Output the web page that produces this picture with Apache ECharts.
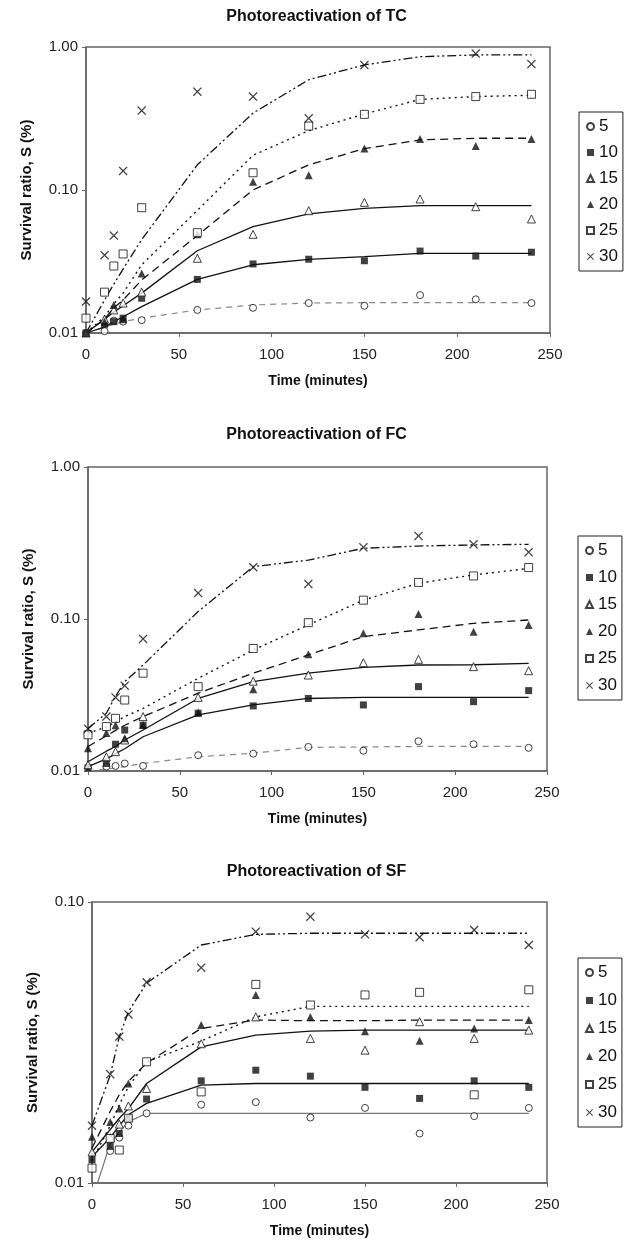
<!DOCTYPE html>
<html>
<head>
<meta charset="utf-8">
<script src="https://cdn.jsdelivr.net/npm/echarts@6/dist/echarts.min.js"></script>
<style>
  html, body { margin: 0; padding: 0; background: #fff; }
  #main { width: 633px; height: 1250px; }
</style>
</head>
<body>
<div id="main"></div>
<script>
// sampling times (minutes) and UV doses
const times = [0, 10, 15, 20, 30, 60, 90, 120, 150, 180, 210, 240];
const doses = ['5', '10', '15', '20', '25', '30'];

// TC measured
const tc5  = [0.010, 0.0103, 0.0122, 0.012, 0.0123, 0.0145, 0.015, 0.0162, 0.0155, 0.0184, 0.0172, 0.0162];
const tc10 = [0.010, 0.0115, 0.012, 0.0127, 0.0175, 0.0237, 0.0304, 0.0328, 0.032, 0.0374, 0.0345, 0.0367];
const tc15 = [0.010, 0.0125, 0.0145, 0.0162, 0.0193, 0.0333, 0.049, 0.0717, 0.082, 0.0865, 0.0764, 0.0627];
const tc20 = [0.010, 0.012, 0.0157, 0.0125, 0.0261, 0.049, 0.114, 0.127, 0.195, 0.227, 0.203, 0.227];
const tc25 = [0.0127, 0.0193, 0.0294, 0.0357, 0.0752, 0.0503, 0.132, 0.28, 0.338, 0.43, 0.45, 0.467];
const tc30 = [0.0166, 0.035, 0.048, 0.136, 0.359, 0.487, 0.45, 0.317, 0.748, null, 0.90, 0.76];
// TC fitted
const tcFit5  = [0.010, 0.011, 0.0115, 0.012, 0.0127, 0.0145, 0.0157, 0.0162, 0.0163, 0.0163, 0.0163, 0.0163];
const tcFit10 = [0.010, 0.011, 0.012, 0.013, 0.0153, 0.0237, 0.030, 0.0327, 0.0342, 0.036, 0.036, 0.036];
const tcFit15 = [0.010, 0.0125, 0.014, 0.0155, 0.019, 0.0376, 0.0554, 0.068, 0.0745, 0.0777, 0.0777, 0.0777];
const tcFit20 = [0.010, 0.0125, 0.015, 0.017, 0.0235, 0.048, 0.100, 0.150, 0.195, 0.224, 0.230, 0.230];
const tcFit25 = [0.010, 0.013, 0.016, 0.019, 0.030, 0.072, 0.175, 0.26, 0.34, 0.43, 0.45, 0.46];
const tcFit30 = [0.010, 0.017, 0.022, 0.028, 0.045, 0.15, 0.345, 0.59, 0.75, 0.855, 0.88, 0.88];

// FC measured
const fc5  = [0.0099, 0.0107, 0.0108, 0.0112, 0.0108, 0.0127, 0.013, 0.0144, 0.0136, 0.0157, 0.015, 0.0142];
const fc10 = [0.0105, 0.0112, 0.015, 0.0186, 0.020, 0.024, 0.0268, 0.030, 0.0272, 0.0359, 0.0286, 0.0338];
const fc15 = [0.011, 0.0124, 0.0134, 0.016, 0.0228, 0.0305, 0.039, 0.0428, 0.0516, 0.0543, 0.0486, 0.0457];
const fc20 = [0.0141, 0.0178, 0.020, 0.0164, 0.0201, 0.0243, 0.0345, 0.0586, 0.0805, 0.108, 0.0825, 0.0914];
const fc25 = [0.0173, 0.0196, 0.0222, 0.0293, 0.044, 0.0359, 0.064, 0.0946, 0.133, 0.174, 0.192, 0.218];
const fc30 = [0.019, 0.0228, 0.0305, 0.0364, 0.0739, 0.148, 0.219, 0.17, 0.296, 0.352, 0.31, 0.275];
// FC fitted
const fcFit5  = [0.0100, 0.0103, 0.0105, 0.0107, 0.0112, 0.0124, 0.0131, 0.0143, 0.0144, 0.0145, 0.0145, 0.0145];
const fcFit10 = [0.0107, 0.012, 0.013, 0.014, 0.0168, 0.0234, 0.0272, 0.030, 0.0305, 0.0305, 0.0305, 0.0305];
const fcFit15 = [0.0115, 0.0135, 0.0145, 0.016, 0.0186, 0.030, 0.0387, 0.044, 0.048, 0.0498, 0.050, 0.051];
const fcFit20 = [0.0145, 0.017, 0.0185, 0.020, 0.0228, 0.0325, 0.044, 0.058, 0.0766, 0.0847, 0.0937, 0.0985];
const fcFit25 = [0.0177, 0.0195, 0.021, 0.0228, 0.0258, 0.0407, 0.0625, 0.0914, 0.133, 0.172, 0.195, 0.215];
const fcFit30 = [0.019, 0.024, 0.031, 0.0387, 0.0498, 0.112, 0.221, 0.244, 0.292, 0.302, 0.307, 0.31];

// SF measured
const sf5  = [null, 0.013, 0.0145, 0.016, 0.0177, 0.019, 0.0194, 0.0171, 0.0185, 0.015, 0.0173, 0.0185];
const sf10 = [0.0121, 0.0135, 0.015, 0.017, 0.0199, 0.0231, 0.0252, 0.024, 0.0219, 0.020, 0.0231, 0.0219];
const sf15 = [0.0129, 0.0145, 0.0162, 0.0188, 0.0217, 0.0313, 0.039, 0.0327, 0.0297, 0.0375, 0.0327, 0.035];
const sf20 = [0.0146, 0.0165, 0.0184, 0.0226, null, 0.0365, 0.0467, 0.039, 0.0347, 0.0321, 0.0355, 0.038];
const sf25 = [0.0113, 0.0144, 0.0131, 0.017, 0.027, 0.0211, 0.0509, 0.043, 0.0467, 0.0477, 0.0206, 0.0487];
const sf30 = [0.016, 0.0244, 0.0332, 0.0398, 0.0518, 0.0584, 0.0784, 0.0887, 0.0767, 0.0749, 0.0795, 0.0703];
// SF fitted
const sfFit5  = [0.0087, 0.0138, 0.0152, 0.0165, 0.0177, 0.0177, 0.0177, 0.0177, 0.0177, 0.0177, 0.0177, 0.0177];
const sfFit10 = [0.0124, 0.0145, 0.016, 0.0175, 0.0192, 0.0223, 0.0226, 0.0226, 0.0226, 0.0226, 0.0226, 0.0226];
const sfFit15 = [0.0129, 0.0155, 0.017, 0.0184, 0.0226, 0.0305, 0.0336, 0.0347, 0.035, 0.035, 0.035, 0.035];
const sfFit20 = [0.0133, 0.018, 0.0206, 0.023, 0.0267, 0.0355, 0.038, 0.0378, 0.0378, 0.038, 0.038, 0.038];
const sfFit25 = [0.012, 0.016, 0.019, 0.022, 0.027, 0.032, 0.039, 0.0425, 0.0425, 0.0425, 0.0425, 0.0425];
const sfFit30 = [0.016, 0.0242, 0.0332, 0.0407, 0.0514, 0.0703, 0.0767, 0.0774, 0.0774, 0.0774, 0.0774, 0.0774];

const FONT = '"Liberation Sans", Arial, sans-serif';
const INK = '#111';
const CROSS = 'path://M0,1 L1,0 L5,4 L9,0 L10,1 L6,5 L10,9 L9,10 L5,6 L1,10 L0,9 L4,5 Z';

// marker look per dose
const markers = {
  '5':  { symbol: 'circle',   size: 7, itemStyle: { color: '#fff', borderColor: INK, borderWidth: 1 } },
  '10': { symbol: 'rect',     size: 7, itemStyle: { color: INK, borderWidth: 0 } },
  '15': { symbol: 'triangle', size: 8, itemStyle: { color: '#fff', borderColor: INK, borderWidth: 1 } },
  '20': { symbol: 'triangle', size: 8, itemStyle: { color: INK, borderWidth: 0 } },
  '25': { symbol: 'rect',     size: 8, itemStyle: { color: '#fff', borderColor: INK, borderWidth: 1 } },
  '30': { symbol: CROSS,      size: 9, itemStyle: { color: INK, borderWidth: 0 } }
};
// fit line look per dose
const fitStyles = {
  '5':  { color: '#888', width: 1.2, type: [6, 5] },
  '10': { color: INK, width: 1.3, type: 'solid' },
  '15': { color: INK, width: 1.3, type: 'solid' },
  '20': { color: INK, width: 1.3, type: [8, 5] },
  '25': { color: INK, width: 1.4, type: [2, 4] },
  '30': { color: INK, width: 1.3, type: [9, 3, 2, 3, 2, 3] }
};

const panels = [
  { name: 'TC', grid: { left: 86, top: 47, width: 464, height: 286 }, yMax: 1, titleTop: 9,
    legend: { left: 579, top: 112, gap: 9 },
    measured: [tc5, tc10, tc15, tc20, tc25, tc30],
    fits: [tcFit5, tcFit10, tcFit15, tcFit20, tcFit25, tcFit30] },
  { name: 'FC', grid: { left: 88, top: 467, width: 459, height: 304 }, yMax: 1, titleTop: 427,
    legend: { left: 578, top: 536, gap: 10 },
    measured: [fc5, fc10, fc15, fc20, fc25, fc30],
    fits: [fcFit5, fcFit10, fcFit15, fcFit20, fcFit25, fcFit30] },
  { name: 'SF', grid: { left: 92, top: 902, width: 455, height: 281 }, yMax: 0.1, titleTop: 864,
    legend: { left: 578, top: 958, gap: 11 },
    measured: [sf5, sf10, sf15, sf20, sf25, sf30],
    fits: [sfFit5, sfFit10, sfFit15, sfFit20, sfFit25, sfFit30], solid5: true }
];

function pairs(vals) {
  const out = [];
  vals.forEach((v, i) => { if (v != null) out.push([times[i], v]); });
  return out;
}

const option = {
  backgroundColor: '#fff',
  animation: false,
  title: [], grid: [], xAxis: [], yAxis: [], legend: [], series: []
};

panels.forEach((p, gi) => {
  option.title.push({
    text: 'Photoreactivation of ' + p.name,
    left: 'center', top: p.titleTop, padding: 0,
    textStyle: { fontFamily: FONT, fontSize: 16, fontWeight: 'bold', color: INK }
  });
  option.grid.push(Object.assign({ show: true, borderColor: '#666', borderWidth: 1.5, backgroundColor: '#fff' }, p.grid));
  option.xAxis.push({
    gridIndex: gi, type: 'value', min: 0, max: 250, interval: 50,
    name: 'Time (minutes)', nameLocation: 'middle', nameGap: 41,
    nameTextStyle: { fontFamily: FONT, fontSize: 14, fontWeight: 'bold', color: INK },
    axisLine: { show: true, lineStyle: { color: '#666', width: 1.5 } },
    axisTick: { show: true, length: 4, lineStyle: { color: '#666' } },
    axisLabel: { fontFamily: FONT, fontSize: 15, color: '#222', margin: 14 },
    splitLine: { show: false }
  });
  option.yAxis.push({
    gridIndex: gi, type: 'log', logBase: 10, min: 0.01, max: p.yMax,
    name: 'Survival ratio, S (%)', nameLocation: 'middle', nameGap: 52,
    nameTextStyle: { fontFamily: FONT, fontSize: 15, fontWeight: 'bold', color: INK },
    axisLine: { show: true, lineStyle: { color: '#666', width: 1.5 } },
    axisTick: { show: true, length: 4, lineStyle: { color: '#666' } },
    axisLabel: { fontFamily: FONT, fontSize: 15, color: '#222', margin: 8,
      formatter: v => v.toFixed(2) },
    minorTick: { show: false },
    splitLine: { show: false }
  });
  option.legend.push({
    data: doses, orient: 'vertical', left: p.legend.left, top: p.legend.top,
    itemGap: p.legend.gap, itemWidth: 7, itemHeight: 7,
    padding: [6, 5, 6, 7], borderColor: '#222', borderWidth: 1,
    selectedMode: false,
    textStyle: { fontFamily: FONT, fontSize: 17, color: INK, padding: [0, 0, 0, 0] }
  });

  doses.forEach((d, k) => {
    const ls = Object.assign({}, fitStyles[d]);
    if (d === '5' && p.solid5) { ls.type = 'solid'; ls.color = '#777'; }
    option.series.push({
      name: p.name + ' fit ' + d, type: 'line',
      xAxisIndex: gi, yAxisIndex: gi,
      data: pairs(p.fits[k]), showSymbol: false, symbol: 'none',
      lineStyle: ls, clip: true, z: 2
    });
  });
  doses.forEach((d, k) => {
    const m = markers[d];
    option.series.push({
      name: d, type: 'scatter',
      xAxisIndex: gi, yAxisIndex: gi,
      data: pairs(p.measured[k]),
      symbol: m.symbol, symbolSize: m.size, itemStyle: m.itemStyle, z: 3
    });
  });
});

const chart = echarts.init(document.getElementById('main'));
chart.setOption(option);
</script>
</body>
</html>
